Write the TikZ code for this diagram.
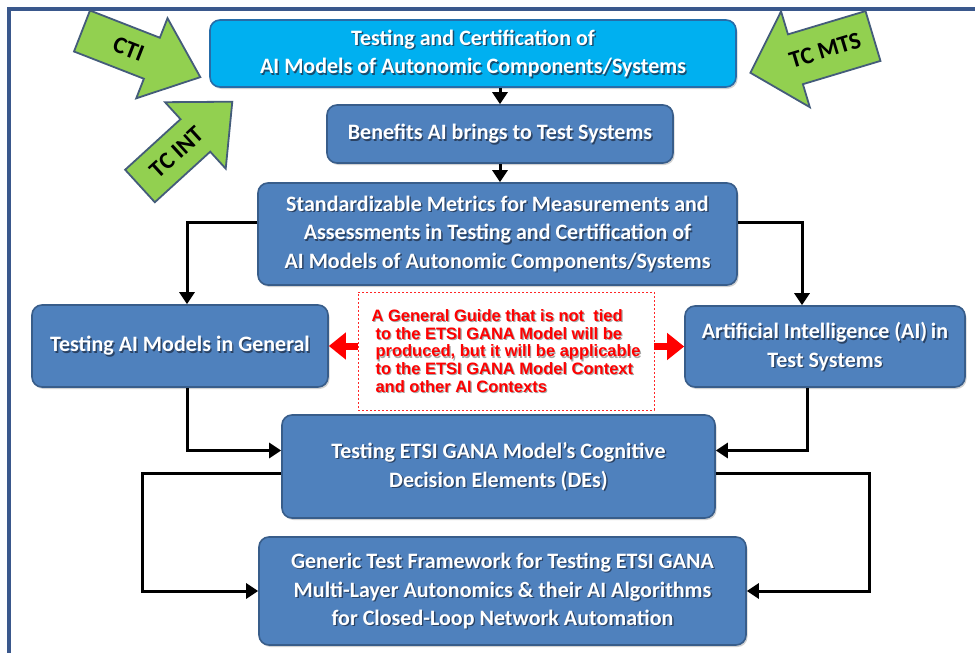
\documentclass[tikz,border=0pt]{standalone}
\usepackage{fontspec}
\setmainfont{Carlito}
\newfontfamily\guidefont{Liberation Sans}
\usetikzlibrary{arrows.meta,shadows,calc}

\definecolor{framecol}{RGB}{58,88,140}
\definecolor{boxfill}{RGB}{79,129,189}
\definecolor{boxline}{RGB}{56,93,138}
\definecolor{cyanfill}{RGB}{0,176,240}
\definecolor{cyanline}{RGB}{38,108,168}
\definecolor{greenfill}{RGB}{146,208,80}
\definecolor{greenline}{RGB}{68,92,122}
\definecolor{guidered}{RGB}{255,0,0}
\definecolor{textshade}{RGB}{30,45,70}

\tikzset{
  panel/.style={draw=boxline, line width=1.6pt, fill=boxfill, rounded corners=10pt,
    inner sep=0pt, drop shadow={shadow xshift=1.5pt, shadow yshift=-2pt, opacity=0.35}},
  toppanel/.style={panel, fill=cyanfill, draw=cyanline},
  ptext/.style={text=white, font=\bfseries\fontsize{22}{28.5}\selectfont, align=center, inner sep=0pt},
  pshadow/.style={ptext, text=textshade, text opacity=0.75},
  conn/.style={draw=black, line width=3pt, -{Triangle[length=12pt,width=15pt]}},
  redarrow/.style={draw=guidered, line width=7pt, -{Triangle[length=17pt,width=26pt]}},
  guidebox/.style={draw=guidered!85, dashed, dash pattern=on 2pt off 2pt, line width=0.8pt,
    inner sep=0pt},
  guidetext/.style={text=guidered, font=\guidefont\bfseries\fontsize{16.5}{17.8}\selectfont,
    align=left, inner sep=0pt},
  guideshadow/.style={guidetext, text=black, text opacity=0.35},
  greenarrow/.style={fill=greenfill, draw=greenline, line width=1.8pt, line join=miter},
  greentext/.style={font=\bfseries\fontsize{24}{24}\selectfont, text=black, inner sep=0pt},
}

% white lettering with a dark offset copy underneath
\newcommand{\paneltext}[2]{%
  \node[pshadow] (#1-shade) at ([shift={(1.4,1.4)}]#1.center) {#2};
  \node[ptext] (#1-text) at (#1.center) {#2};}

% block arrow along +x: length, shaft half width, head half width, head length
\newcommand{\blockarrow}[4]{%
  \draw[greenarrow] (0,-#2) -- (#1-#4,-#2) -- (#1-#4,-#3) -- (#1,0)
    -- (#1-#4,#3) -- (#1-#4,#2) -- (0,#2) -- cycle;}

\begin{document}
\begin{tikzpicture}[x=1pt, y=-1pt]
  \useasboundingbox (0,0) rectangle (975,653);
  \fill[white] (0,0) rectangle (975,653);

  % outer frame
  \draw[framecol, line width=4pt] (9,653) -- (9,9) -- (975,9);

  % panels
  \node[toppanel, minimum width=526pt, minimum height=67pt] (top) at (473,53.5) {};
  \paneltext{top}{Testing and Certification of\\AI Models of Autonomic Components/Systems}

  \node[panel, minimum width=346pt, minimum height=58pt] (benefits) at (500,134) {};
  \paneltext{benefits}{Benefits AI brings to Test Systems}

  \node[panel, minimum width=479pt, minimum height=102pt] (std) at (497.5,234) {};
  \paneltext{std}{Standardizable Metrics for Measurements and\\Assessments in Testing and Certification of\\AI Models of Autonomic Components/Systems}

  \node[panel, minimum width=296pt, minimum height=82pt] (general) at (180,346) {};
  \paneltext{general}{Testing AI Models in General}

  \node[panel, minimum width=280pt, minimum height=81pt] (aitest) at (825,346.5) {};
  \paneltext{aitest}{Artificial Intelligence (AI)\,in\\Test Systems}

  \node[panel, minimum width=433pt, minimum height=103pt] (de) at (498.5,466.5) {};
  \paneltext{de}{Testing ETSI GANA Model's Cognitive\\Decision Elements (DEs)}

  \node[panel, minimum width=487pt, minimum height=108pt] (generic) at (502.5,591) {};
  \paneltext{generic}{Generic Test Framework for Testing ETSI GANA\\Multi-Layer Autonomics \& their AI Algorithms\\for Closed-Loop Network Automation}

  % guide note
  \node[guidebox, minimum width=296pt, minimum height=118pt] (guide) at (506,351) {};
  \def\guidelines{A General Guide that is not\ \ tied\\
    \hspace*{4pt}to the ETSI GANA Model will be\\
    \hspace*{4pt}produced, but it will be applicable\\
    \hspace*{4pt}to the ETSI GANA Model Context\\
    \hspace*{4pt}and other AI Contexts}
  \node[guideshadow] (guide-shade) at ([shift={(1.2,1.2)}]guide.center) {\guidelines};
  \node[guidetext] (guide-text) at (guide.center) {\guidelines};

  \draw[redarrow] (guide.west |- general.east) -- (general.east);
  \draw[redarrow] (guide.east |- aitest.west) -- (aitest.west);

  % flow connectors
  \coordinate (lturn) at (142,0);
  \coordinate (rturn) at (869,0);
  \draw[conn] (benefits.north |- top.south) -- (benefits.north);
  \draw[conn] (benefits.south) -- (benefits.south |- std.north);
  \draw[conn] ([yshift=12pt]std.west) -| ([xshift=7pt]general.north);
  \draw[conn] ([yshift=12pt]std.east) -| ([xshift=-23pt]aitest.north);
  \draw[conn] ([xshift=7pt]general.south) |- ([yshift=16pt]de.west);
  \draw[conn] ([xshift=-18pt]aitest.south) |- ([yshift=16pt]de.east);
  \draw[conn] ([yshift=-7pt]de.west) -| (lturn |- generic.west) -- (generic.west);
  \draw[conn] ([yshift=-7pt]de.east) -| (rturn |- generic.east) -- (generic.east);

  % incoming committee arrows
  \begin{scope}[shift={(82,31)}, rotate=-21.3]
    \blockarrow{127}{22}{43}{52}
    \node[greentext, transform shape] (cti) at (50,0) {CTI};
  \end{scope}
  \begin{scope}[shift={(140,186)}, rotate=42.4]
    \blockarrow{125}{22}{45}{50}
    \node[greentext, transform shape] (tcint) at (50,0) {TC INT};
  \end{scope}
  \begin{scope}[shift={(873,36)}, rotate=-163.3]
    \blockarrow{128}{26}{50}{47}
    \node[greentext, rotate=180, transform shape] (tcmts) at (50,0) {TC MTS};
  \end{scope}
\end{tikzpicture}
\end{document}
